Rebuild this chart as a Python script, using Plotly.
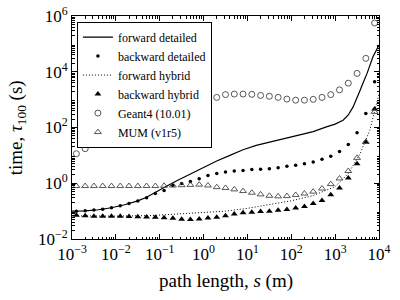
import plotly.graph_objects as go

# bin centres (log10 of path length in m)
s_log10 = [-2.9, -2.7, -2.5, -2.3, -2.1, -1.9, -1.7, -1.5, -1.3, -1.1, -0.9, -0.7,
           -0.5, -0.3, -0.1, 0.1, 0.3, 0.5, 0.7, 0.9, 1.1, 1.3, 1.5, 1.7, 1.9, 2.1,
           2.3, 2.5, 2.7, 2.9, 3.1, 3.3, 3.5, 3.7, 3.9]

# log10 of time (s)
bwd_detailed = [-1.0, -0.99, -0.96, -0.93, -0.88, -0.81, -0.73, -0.64, -0.52, -0.37,
                -0.26, -0.08, -0.01, 0.06, 0.16, 0.28, 0.35, 0.40, 0.44, 0.46, 0.49,
                0.50, 0.52, 0.56, 0.61, 0.65, 0.70, 0.76, 0.86, 0.97, 1.14, 1.39,
                1.81, 2.50, 3.64]
bwd_hybrid = [-1.15, -1.17, -1.18, -1.18, -1.18, -1.18, -1.19, -1.20, -1.21, -1.22,
              -1.24, -1.26, -1.29, -1.30, -1.28, -1.25, -1.22, -1.17, -1.10, -1.06,
              -1.04, -1.01, -1.00, -0.97, -0.94, -0.89, -0.83, -0.73, -0.62, -0.41,
              -0.17, 0.19, 0.70, 1.48, 2.66]
mum = [-0.10, -0.10, -0.10, -0.10, -0.10, -0.10, -0.10, -0.10, -0.10, -0.10, -0.09,
       -0.08, -0.07, -0.06, -0.05, -0.08, -0.14, -0.17, -0.22, -0.28, -0.34, -0.40,
       -0.45, -0.47, -0.46, -0.42, -0.37, -0.30, -0.19, -0.03, 0.17, 0.44, 0.91,
       1.48, 2.56]
geant4 = [1.06, 1.24, 1.45, 1.66, None, None, None, None, None, None, None, None,
          None, None, None, None, 3.08, 3.18, 3.20, 3.20, 3.19, 3.15, 3.12, 3.08,
          3.02, 2.98, 2.98, 3.01, 3.08, 3.18, 3.35, 3.59, 3.94, 4.48, 5.75]

fwd_detailed_s = [-3.0, -2.7, -2.4, -2.1, -1.8, -1.5, -1.3, -1.1, -0.9, -0.6, -0.3,
                  0.0, 0.3, 0.6, 0.9, 1.2, 1.5, 2.0, 2.5, 2.8, 3.0, 3.18, 3.3, 3.41,
                  3.5, 3.57, 3.65, 3.73, 3.86, 4.0]
fwd_detailed = [-1.0, -0.99, -0.95, -0.88, -0.77, -0.63, -0.5, -0.34, -0.15, 0.1,
                0.33, 0.58, 0.8, 1.0, 1.2, 1.36, 1.47, 1.65, 1.85, 2.02, 2.12, 2.26,
                2.45, 2.74, 3.05, 3.34, 3.65, 3.95, 4.53, 4.96]

fwd_hybrid_s = [-3.0, -2.0, -1.2, -0.6, 0.0, 0.5, 1.0, 1.5, 2.0, 2.5, 3.0, 3.3, 3.57,
                3.79, 4.0]
fwd_hybrid = [-1.17, -1.18, -1.16, -1.1, -1.06, -1.0, -0.9, -0.76, -0.63, -0.44,
              -0.12, 0.35, 1.06, 1.9, 3.2]

x_ticks = [-3, -2, -1, 0, 1, 2, 3, 4]
y_ticks = [-2, 0, 2, 4, 6]


def p10(v):
    return [None if e is None else 10 ** e for e in v]


def sup(e):
    return "10<sup>" + str(e).replace("-", "\u2212") + "</sup>"


FONT = "Liberation Serif"
fig = go.Figure()
fig.add_trace(go.Scatter(x=p10(fwd_detailed_s), y=p10(fwd_detailed), mode="lines",
                         name="forward detailed", line=dict(color="black", width=1.2)))
fig.add_trace(go.Scatter(x=p10(s_log10), y=p10(bwd_detailed), mode="markers",
                         name="backward detailed",
                         marker=dict(symbol="circle", size=3.5, color="black")))
fig.add_trace(go.Scatter(x=p10(fwd_hybrid_s), y=p10(fwd_hybrid), mode="lines",
                         name="forward hybrid",
                         line=dict(color="black", width=1, dash="1px,2px")))
fig.add_trace(go.Scatter(x=p10(s_log10), y=p10(bwd_hybrid), mode="markers",
                         name="backward hybrid",
                         marker=dict(symbol="triangle-up", size=6, color="black")))
fig.add_trace(go.Scatter(x=p10(s_log10), y=p10(geant4), mode="markers",
                         name="Geant4 (10.01)",
                         marker=dict(symbol="circle-open", size=6, color="#444",
                                     line=dict(width=0.9))))
fig.add_trace(go.Scatter(x=p10(s_log10), y=p10(mum), mode="markers",
                         name="MUM (v1r5)",
                         marker=dict(symbol="triangle-up-open", size=6, color="#444",
                                     line=dict(width=0.9))))

minor_x = [k * 10 ** e for e in range(-3, 4) for k in range(2, 10)]
minor_y = [k * 10 ** e for e in range(-2, 6) for k in range(2, 10)]

axis_common = dict(type="log", showline=True, linecolor="black", linewidth=1,
                   mirror="ticks", ticks="inside", ticklen=5, tickcolor="black",
                   showgrid=False, zeroline=False, automargin=False,
                   tickfont=dict(family=FONT, size=17, color="black"))
fig.update_xaxes(range=[-3, 4], tickvals=[10 ** e for e in x_ticks],
                 ticktext=[sup(e) for e in x_ticks],
                 minor=dict(ticks="inside", ticklen=2.5, tickcolor="black",
                            tickvals=minor_x, showgrid=False),
                 **axis_common)
fig.update_yaxes(range=[-2, 6], tickvals=[10 ** e for e in y_ticks],
                 ticktext=[sup(e) for e in y_ticks],
                 minor=dict(ticks="inside", ticklen=2.5, tickcolor="black",
                            tickvals=minor_y, showgrid=False),
                 **axis_common)
fig.add_annotation(text="path length, <i>s</i> (m)", xref="paper", yref="paper",
                   x=0.5, y=-0.187, xanchor="center", yanchor="middle",
                   showarrow=False, font=dict(family=FONT, size=19, color="black"))
fig.add_annotation(text="time, <i>\u03c4</i><sub>100</sub> (s)", xref="paper",
                   yref="paper", x=-0.18, y=0.5, xanchor="center", yanchor="middle",
                   textangle=-90, showarrow=False,
                   font=dict(family=FONT, size=19, color="black"))
fig.update_layout(width=400, height=300, margin=dict(l=72, r=21, t=16, b=61),
                  plot_bgcolor="white", paper_bgcolor="white",
                  legend=dict(x=0.016, y=0.975, xanchor="left", yanchor="top",
                              bgcolor="white", bordercolor="black", borderwidth=1,
                              font=dict(family=FONT, size=12, color="black"),
                              tracegroupgap=0, itemwidth=30))
# remove the browser's default page margin so the 400x300 figure fills the window
fig.write_html("out.html", config={"displayModeBar": False},
               post_script="document.body.style.margin='0';")
